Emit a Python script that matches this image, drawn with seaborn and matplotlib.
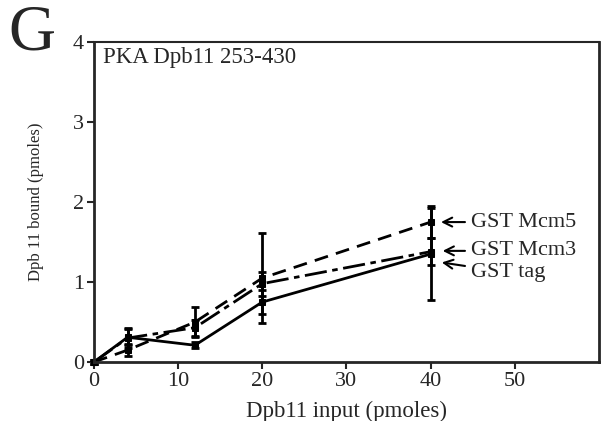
import pandas as pd
import matplotlib.pyplot as plt
import seaborn as sns

# values
dpb11_input = [0, 4, 12, 20, 40]
gst_tag = [0.0, 0.31, 0.21, 0.75, 1.35]
gst_tag_err = [0.02, 0.10, 0.04, 0.15, 0.57]
gst_mcm5 = [0.0, 0.15, 0.50, 1.05, 1.75]
gst_mcm5_err = [0.02, 0.08, 0.19, 0.56, 0.20]
gst_mcm3 = [0.0, 0.30, 0.43, 0.98, 1.38]
gst_mcm3_err = [0.02, 0.12, 0.10, 0.15, 0.17]
series_names = ['GST tag', 'GST Mcm5', 'GST Mcm3']

sns.set_style('ticks')
plt.rcParams['font.family'] = ['Liberation Serif', 'DejaVu Serif']

rows = []
for name, vals, errs in zip(series_names, [gst_tag, gst_mcm5, gst_mcm3],
                            [gst_tag_err, gst_mcm5_err, gst_mcm3_err]):
    for x, y, e in zip(dpb11_input, vals, errs):
        rows.append({'input': x, 'bound': y, 'err': e, 'series': name})
data = pd.DataFrame(rows)

fig = plt.figure(figsize=(6.02, 4.21), dpi=100)
ax = fig.add_axes([0.156, 0.140, 0.839, 0.760])

styles = {'GST tag': '-', 'GST Mcm5': (0, (5, 3)), 'GST Mcm3': (0, (8, 2, 2, 2))}
for name in series_names:
    d = data[data['series'] == name]
    sns.lineplot(data=d, x='input', y='bound', ax=ax, color='black', lw=2,
                 linestyle=styles[name], marker='s', markersize=5,
                 markeredgecolor='black', legend=False)
    ax.errorbar(d['input'], d['bound'], yerr=d['err'], fmt='none',
                ecolor='black', elinewidth=2, capsize=3, capthick=2)

ax.set_xlim(0, 60)
ax.set_ylim(0, 4)
ax.set_xticks([0, 10, 20, 30, 40, 50])
ax.set_yticks([0, 1, 2, 3, 4])
ax.tick_params(labelsize=16, width=1.5, length=5, direction='out', pad=2)
for side in ['left', 'bottom', 'right']:
    ax.spines[side].set_linewidth(2)
ax.spines['top'].set_linewidth(1.5)
for line in ax.lines:
    line.set_clip_on(False)

ax.set_xlabel('Dpb11 input (pmoles)', fontsize=16.5, labelpad=7)
ax.set_ylabel('Dpb 11 bound (pmoles)', fontsize=12, labelpad=21)
ax.text(0.018, 0.985, 'PKA Dpb11 253-430', transform=ax.transAxes,
        fontsize=16.5, va='top', ha='left')
fig.text(0.014, 0.99, 'G', fontsize=47, va='top', ha='left')

arrow = dict(arrowstyle='->', color='black', lw=1.5)
ax.annotate('GST Mcm5', xy=(40.9, 1.75), xytext=(44.8, 1.75), fontsize=16,
            va='center', arrowprops=arrow)
ax.annotate('GST Mcm3', xy=(41.1, 1.39), xytext=(44.8, 1.39), fontsize=16,
            va='center', arrowprops=arrow)
ax.annotate('GST tag', xy=(41.0, 1.25), xytext=(44.8, 1.12), fontsize=16,
            va='center', arrowprops=arrow)

plt.savefig('out.png', dpi=100)
